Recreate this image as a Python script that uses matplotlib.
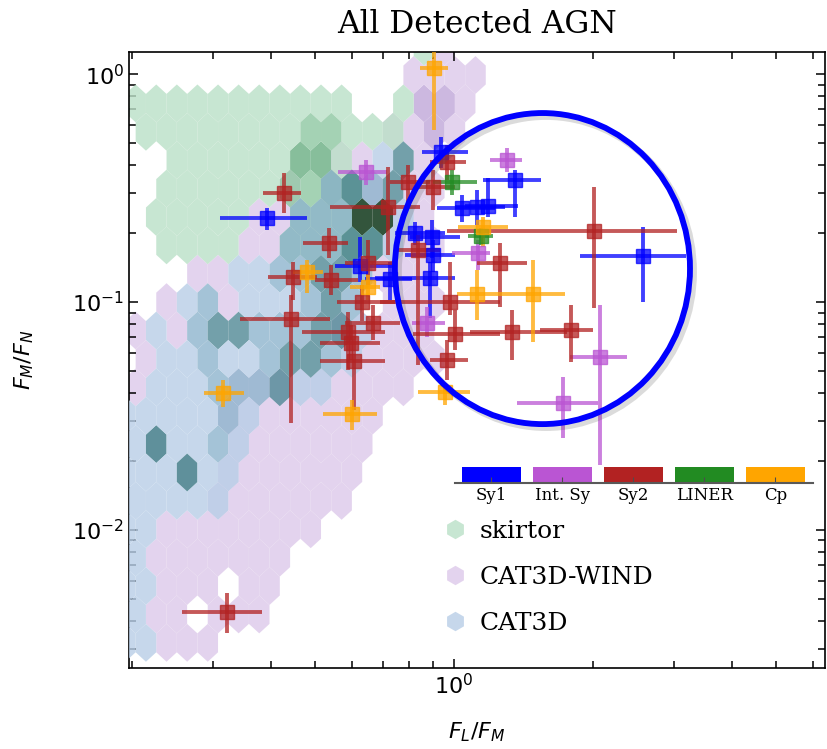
import numpy as np
import matplotlib
matplotlib.use("Agg")
import matplotlib.pyplot as plt
from matplotlib.colors import ListedColormap
from matplotlib.lines import Line2D
from matplotlib.patches import Ellipse
from matplotlib.ticker import NullFormatter

# ---- detected AGN: value plus lower / upper end of each error bar ----
sy1_x   = [0.393, 0.937, 1.356, 1.041, 1.122, 1.185, 0.823, 0.896, 0.900, 0.887, 0.726, 0.625, 2.57]
sy1_xlo = [0.311, 0.852, 1.156, 0.919, 1.005, 1.056, 0.745, 0.803, 0.783, 0.674, 0.641, 0.552, 1.876]
sy1_xhi = [0.480, 1.072, 1.544, 1.227, 1.290, 1.377, 0.956, 1.030, 1.005, 1.005, 0.811, 0.734, 3.187]
sy1_y   = [0.234, 0.455, 0.343, 0.258, 0.261, 0.264, 0.201, 0.193, 0.161, 0.127, 0.126, 0.144, 0.159]
sy1_ylo = [0.207, 0.387, 0.236, 0.224, 0.218, 0.236, 0.178, 0.156, 0.135, 0.085, 0.102, 0.122, 0.100]
sy1_yhi = [0.258, 0.529, 0.379, 0.294, 0.310, 0.350, 0.224, 0.229, 0.187, 0.150, 0.150, 0.193, 0.213]

int_x   = [0.644, 1.303, 1.127, 0.874, 2.074, 1.723]
int_xlo = [0.560, 1.197, 0.990, 0.811, 1.785, 1.370]
int_xhi = [0.716, 1.404, 1.197, 0.956, 2.373, 2.053]
int_y   = [0.372, 0.420, 0.164, 0.081, 0.0574, 0.0361]
int_ylo = [0.326, 0.372, 0.138, 0.070, 0.0193, 0.0253]
int_yhi = [0.420, 0.474, 0.187, 0.095, 0.097, 0.0469]

sy2_x   = [0.428, 0.536, 0.447, 0.541, 0.632, 0.651, 0.719, 0.795, 0.900, 0.966, 0.443, 0.667,
           0.589, 0.598, 0.607, 0.835, 0.980, 1.005, 0.966, 1.258, 1.336, 1.794, 2.012, 0.322]
sy2_xlo = [0.385, 0.470, 0.395, 0.499, 0.557, 0.580, 0.538, 0.726, 0.823, 0.887, 0.343, 0.580,
           0.468, 0.512, 0.512, 0.745, 0.691, 0.815, 0.887, 1.122, 1.083, 1.537, 0.966, 0.257]
sy2_xhi = [0.466, 0.589, 0.504, 0.619, 0.745, 0.745, 0.844, 0.887, 1.005, 1.062, 0.538, 0.764,
           0.708, 0.691, 0.708, 0.932, 1.258, 1.258, 1.072, 1.440, 1.758, 2.000, 3.046, 0.383]
sy2_y   = [0.301, 0.1815, 0.1287, 0.125, 0.100, 0.148, 0.261, 0.336, 0.319, 0.411, 0.0842, 0.0809,
           0.0738, 0.0661, 0.0551, 0.169, 0.100, 0.0724, 0.0557, 0.148, 0.0738, 0.0753, 0.205, 0.00437]
sy2_ylo = [0.246, 0.156, 0.102, 0.107, 0.083, 0.119, 0.161, 0.266, 0.253, 0.343, 0.0295, 0.068,
           0.0503, 0.0557, 0.0336, 0.053, 0.0877, 0.0616, 0.0455, 0.095, 0.0557, 0.0546, 0.0941, 0.00353]
sy2_yhi = [0.368, 0.211, 0.150, 0.145, 0.119, 0.187, 0.391, 0.399, 0.379, 0.488, 0.107, 0.097,
           0.0904, 0.0793, 0.0681, 0.197, 0.150, 0.0922, 0.0681, 0.1815, 0.0922, 0.097, 0.319, 0.00529]

liner_x   = [0.990, 1.144]
liner_xlo = [0.900, 1.072]
liner_xhi = [1.122, 1.215]
liner_y   = [0.336, 0.1948]
liner_ylo = [0.294, 0.178]
liner_yhi = [0.379, 0.211]

cp_x   = [0.905, 0.480, 0.651, 0.3155, 0.601, 0.956, 1.156, 1.122, 1.484]
cp_xlo = [0.844, 0.447, 0.595, 0.287, 0.520, 0.835, 1.020, 1.015, 1.258]
cp_xhi = [0.970, 0.520, 0.691, 0.350, 0.681, 1.083, 1.310, 1.258, 1.741]
cp_y   = [1.062, 0.1354, 0.1163, 0.0399, 0.0323, 0.0403, 0.2133, 0.1084, 0.1084]
cp_ylo = [0.568, 0.1095, 0.102, 0.0346, 0.0275, 0.0353, 0.174, 0.0834, 0.0668]
cp_yhi = [1.249, 0.1528, 0.1313, 0.0455, 0.0372, 0.0441, 0.236, 0.138, 0.1528]

# ---- model densities: one string per hex row, top row
# first; '.' = empty cell, digit = density level ----
skirtor_rows = [
    "...............1",
    "",
    ".11111111111..1",
    ".1111111122111",
    "...111111331",
    "..1111112233",
    "..11111..22255",
    "..1111..22233",
] + [""] * 14

cat3dwind_rows = [
    "................1",
    "..............1111",
    "...............221",
    ".............1121",
    "...........11..1",
    "........1...1.11",
    ".......11.....11",
    "......11.....111",
    "....11.......111",
    "..1..1.......111",
    ".1.1.......11111",
    ".1.........11111",
    ".1....111111111",
    ".....11111111",
    "......1111111",
    ".....1111111",
    ".....1111111",
    "..11111111",
    "..1111111",
    "..111.11",
    "..11.111",
    "..111",
]

cat3d_rows = [
    "", "", "", "",
    ".............13",
    "..........2323",
    ".........222..1",
    "........222331",
    "......1122332",
    "...12.111232",
    "..1.233222331",
    "..1121123321",
    "..111222311",
    "1111121",
    ".141121",
    "111411",
    ".11111",
    "11",
    ".1",
    "11",
    ".1",
    "11",
]

hex_extent = (-0.7358, 0.8284, -2.6195, 0.1208)   # log10 units
hex_grid = (35, 11)

class_names = ["Sy1", "Int. Sy", "Sy2", "LINER", "Cp"]
class_colors = ["blue", "mediumorchid", "firebrick", "forestgreen", "orange"]


def hex_cells(rows):
    x0, x1, y0, y1 = hex_extent
    sx = (x1 - x0) / hex_grid[0]
    sy = (y1 - y0) / hex_grid[1]
    xs, ys, cs = [], [], []
    for k, row in enumerate(rows):
        r = len(rows) - k  # half-row counted from the bottom row
        for i, ch in enumerate(row):
            if ch == ".":
                continue
            xs.append(10 ** (x0 + (i + 0.5 * (r % 2)) * sx))
            ys.append(10 ** (y0 + r * sy / 2))
            cs.append(int(ch))
    return xs, ys, cs


fig = plt.figure(figsize=(8.28, 7.49), dpi=100)
ax = fig.add_axes([0.1558, 0.1081, 0.8406, 0.8224])

models = [
    ("CAT3D-WIND", cat3dwind_rows, ["#ddc9ea", "#c0a7d9"], 1),
    ("skirtor", skirtor_rows, ["#bae0c7", "#8ec7a1", "#69ae82", "#317c50", "#002a0b"], 2),
    ("CAT3D", cat3d_rows, ["#b8cee7", "#8eb4cd", "#508895", "#377582"], 3),
]
for name, rows, levels, z in models:
    hx, hy, hc = hex_cells(rows)
    ax.hexbin(hx, hy, C=hc, reduce_C_function=np.max, gridsize=hex_grid,
              extent=hex_extent, xscale="log", yscale="log",
              cmap=ListedColormap(levels), vmin=0.5, vmax=len(levels) + 0.5,
              alpha=0.8, edgecolors="none", linewidths=0, zorder=z)

groups = [
    (sy1_x, sy1_xlo, sy1_xhi, sy1_y, sy1_ylo, sy1_yhi, "blue"),
    (int_x, int_xlo, int_xhi, int_y, int_ylo, int_yhi, "mediumorchid"),
    (sy2_x, sy2_xlo, sy2_xhi, sy2_y, sy2_ylo, sy2_yhi, "firebrick"),
    (liner_x, liner_xlo, liner_xhi, liner_y, liner_ylo, liner_yhi, "forestgreen"),
    (cp_x, cp_xlo, cp_xhi, cp_y, cp_ylo, cp_yhi, "orange"),
]
for x, xlo, xhi, y, ylo, yhi, col in groups:
    x, xlo, xhi = np.array(x), np.array(xlo), np.array(xhi)
    y, ylo, yhi = np.array(y), np.array(ylo), np.array(yhi)
    ax.errorbar(x, y, xerr=[x - xlo, xhi - x], yerr=[y - ylo, yhi - y],
                fmt="s", color=col, ms=10, elinewidth=2.8, capsize=0,
                alpha=0.75, zorder=6)

ax.set_xscale("log")
ax.set_yscale("log")
ax.set_xlim(0.197, 6.38)
ax.set_ylim(0.00248, 1.25)
ax.xaxis.set_minor_formatter(NullFormatter())
ax.yaxis.set_minor_formatter(NullFormatter())
ax.tick_params(which="both", direction="in", top=True, right=True, width=1.1)
ax.tick_params(which="major", length=6.5, labelsize=16)
ax.tick_params(which="minor", length=5)
for s in ax.spines.values():
    s.set_linewidth(1.2)

ax.set_xlabel(r"$F_L/F_M$", fontsize=16, labelpad=16)
ax.set_ylabel(r"$F_M/F_N$", fontsize=16, labelpad=26)
ax.set_title("All Detected AGN", fontsize=22.5, family="DejaVu Serif", pad=14)

# model legend
handles = [Line2D([], [], ls="none", marker="h", ms=14, mec="none", mfc=lv[0], alpha=0.8)
           for _, _, lv, _ in [models[1], models[0], models[2]]]
ax.legend(handles, ["skirtor", "CAT3D-WIND", "CAT3D"], loc="upper left",
          bbox_to_anchor=(0.4504, 0.241), frameon=False,
          prop={"family": "DejaVu Serif", "size": 18}, handlelength=1.0,
          handletextpad=0.5, borderpad=0, borderaxespad=0, labelspacing=0.92)

# highlight ellipse with soft shadow
ax.add_patch(Ellipse((0.599, 0.643), 0.424, 0.505, transform=ax.transAxes,
                     fill=False, ec="0.3", lw=5, alpha=0.2, zorder=9, clip_on=False))
ax.add_patch(Ellipse((0.594, 0.6485), 0.424, 0.505, transform=ax.transAxes,
                     fill=False, ec="blue", lw=4.2, zorder=10, clip_on=False))

# class colour key
cax = fig.add_axes([0.5495, 0.3551, 0.4324, 0.0214])
cax.bar(range(len(class_names)), [1] * len(class_names), width=0.83,
        color=class_colors)
cax.set_xlim(-0.514, 4.53)
cax.set_ylim(0, 1)
cax.patch.set_alpha(0)
for side in ["top", "left", "right"]:
    cax.spines[side].set_visible(False)
cax.spines["bottom"].set_color("0.35")
cax.spines["bottom"].set_linewidth(1.5)
cax.set_yticks([])
cax.set_xticks(range(len(class_names)))
cax.set_xticklabels(class_names, family="DejaVu Serif", fontsize=12)
cax.tick_params(axis="x", direction="in", length=4, color="0.3", pad=3)

fig.savefig("out.png", dpi=100)
